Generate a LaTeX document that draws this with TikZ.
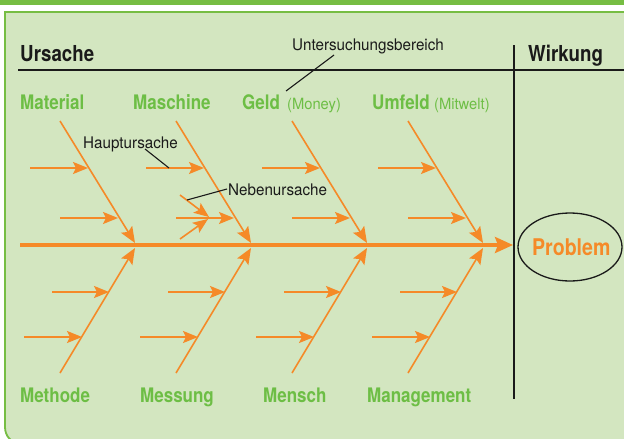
\documentclass[tikz,border=0pt]{standalone}
\usepackage{fontspec}
\setmainfont{TeX Gyre Heros}
\newfontfamily\boldlab{TeX Gyre Heros}[FakeStretch=0.85]
\newfontfamily\reglab{TeX Gyre Heros}[FakeStretch=0.95]
\usetikzlibrary{arrows.meta,shapes.geometric}
\definecolor{bandgreen}{HTML}{76BD43}
\definecolor{boxfill}{HTML}{D3E6C0}
\definecolor{labgreen}{HTML}{6DBE45}
\definecolor{fishorange}{HTML}{F58A28}
\definecolor{inkblack}{HTML}{1A1A1A}
\tikzset{
  bone/.style={draw=fishorange, line width=1.6pt, -{Stealth[length=16pt,width=13pt,inset=3pt]}},
  branch/.style={draw=fishorange, line width=2pt, -{Stealth[length=15pt,width=12pt,inset=3pt]}},
  spineline/.style={draw=fishorange, line width=3.5pt, -{Stealth[length=18pt,width=16pt,inset=3pt]}},
  lab/.style={inner sep=0pt, anchor=base west, text=labgreen, font=\boldlab\bfseries\fontsize{20}{24}\selectfont},
  sublab/.style={inner sep=0pt, anchor=base west, text=labgreen, font=\reglab\fontsize{15.5}{18}\selectfont},
  head/.style={inner sep=0pt, anchor=base west, text=inkblack, font=\boldlab\bfseries\fontsize{22}{26}\selectfont},
  note/.style={inner sep=0pt, anchor=base west, text=inkblack, font=\reglab\fontsize{16}{19}\selectfont},
  leader/.style={draw=inkblack, line width=1.1pt},
  frame/.style={draw=inkblack, line width=2.8pt}
}
\begin{document}
\begin{tikzpicture}[x=1pt,y=-1pt]
\useasboundingbox (0,0) rectangle (624,439);
\clip (0,0) rectangle (624,439);
\fill[white] (0,0) rectangle (624,439);
\fill[bandgreen] (0,0) rectangle (624,4.5);
% content box: square top-left corner, rounded bottom-left, open to the right and bottom
\fill[boxfill] (640,12) -- (5,12) -- (5,427) .. controls (5,436) and (11,443) .. (20,443) -- (640,443) -- cycle;
\draw[bandgreen, line width=1.8pt] (640,12) -- (5,12) -- (5,427) .. controls (5,436) and (11,443) .. (20,443) -- (640,443);

% headings and frame lines
\node[head] (ursache) at (20,61) {Ursache};
\node[head] (wirkung) at (528,61) {Wirkung};
\coordinate (hl) at (18,70);
\coordinate (hr) at (630,70);
\coordinate (vt) at (514,45);
\coordinate (vb) at (514,399);
\draw[frame] (hl) -- (hr);
\draw[frame] (vt) -- (vb);

% spine
\coordinate (sp0) at (20,245);
\coordinate (sp1) at (513,245);
\draw[spineline] (sp0) -- (sp1);

% problem
\node[draw=inkblack, line width=1.3pt, ellipse, minimum width=104pt, minimum height=68pt, inner sep=0pt] (probell) at (570,247) {};
\node[inner sep=0pt, anchor=base west, text=fishorange, font=\boldlab\bfseries\fontsize{23}{27}\selectfont] (problem) at (532,255) {Problem};

% bones
\foreach \i/\T in {1/135,2/251,3/367,4/483}{
  \coordinate (ts\i) at (\T-75,121);
  \coordinate (tt\i) at (\T,243);
  \coordinate (bs\i) at (\T-75,373);
  \coordinate (bt\i) at (\T,248);
  \draw[bone] (ts\i) -- (tt\i);
  \draw[bone] (bs\i) -- (bt\i);
  % top branches
  \coordinate (ta\i) at (\T-105,168);
  \coordinate (tb\i) at (\T-47,168);
  \draw[branch] (ta\i) -- (tb\i);
  \coordinate (tc\i) at (\T-75,218);
  \coordinate (td\i) at (\T-17,218);
  \draw[branch] (tc\i) -- (td\i);
  % bottom branches
  \coordinate (ba\i) at (\T-83,292);
  \coordinate (bb\i) at (\T-26,292);
  \draw[branch] (ba\i) -- (bb\i);
  \coordinate (bc\i) at (\T-111,337);
  \coordinate (bd\i) at (\T-53,337);
  \draw[branch] (bc\i) -- (bd\i);
}

% sub causes (Nebenursache)
\coordinate (n1s) at (180,195);
\coordinate (n1t) at (209,217);
\coordinate (n2s) at (180,239);
\coordinate (n2t) at (208,219);
\draw[branch, line width=1.6pt] (n1s) -- (n1t);
\draw[branch, line width=1.6pt] (n2s) -- (n2t);

% labels top
\node[lab] (material) at (20,109) {Material};
\node[lab] (maschine) at (133,109) {Maschine};
\node[lab] (geld) at (242,109) {Geld};
\node[sublab] (money) at (287,109) {(Money)};
\node[lab] (umfeld) at (372,109) {Umfeld};
\node[sublab] (mitwelt) at (434,109) {(Mitwelt)};
% labels bottom
\node[lab] (methode) at (20,402) {Methode};
\node[lab] (messung) at (140,402) {Messung};
\node[lab] (mensch) at (263,402) {Mensch};
\node[lab] (management) at (367,402) {Management};

% notes
\node[note] (ub) at (292,50) {Untersuchungsbereich};
\coordinate (ubl1) at (334,55);
\coordinate (ubl2) at (286,91);
\draw[leader] (ubl1) -- (ubl2);
\node[note] (haupt) at (83,148) {Hauptursache};
\coordinate (hal1) at (145,149);
\coordinate (hal2) at (169,168);
\draw[leader] (hal1) -- (hal2);
\node[note] (neben) at (228,195) {Nebenursache};
\coordinate (nel1) at (227,189);
\coordinate (nel2) at (187,200);
\draw[leader] (nel1) -- (nel2);
\end{tikzpicture}
\end{document}
